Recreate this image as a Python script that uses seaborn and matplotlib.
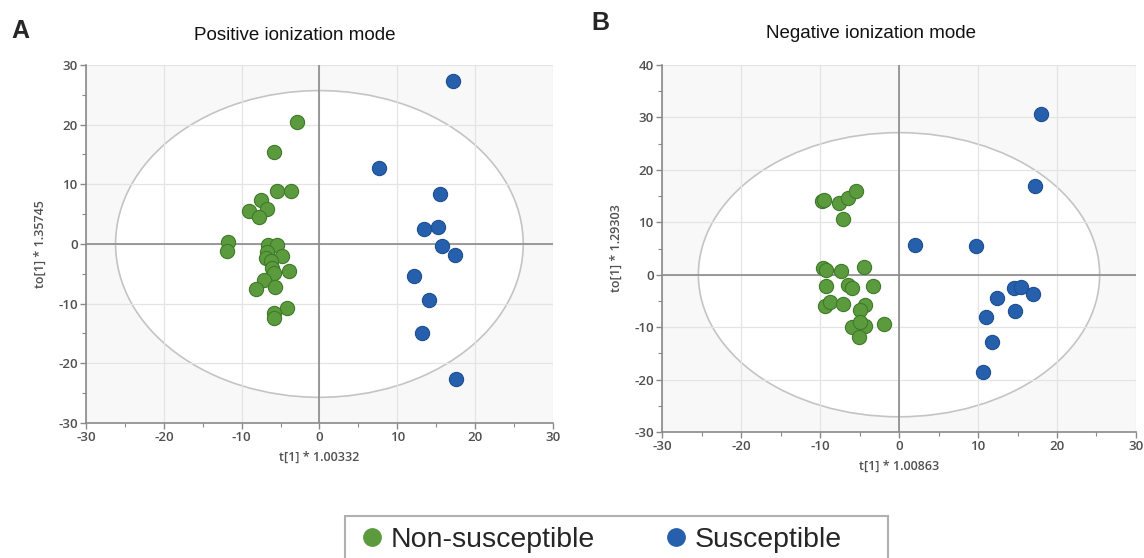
import numpy as np
import pandas as pd
import seaborn as sns
import matplotlib.pyplot as plt
from matplotlib.patches import Ellipse, Rectangle
from matplotlib.ticker import MultipleLocator
from matplotlib.lines import Line2D

# panel A - positive ionization mode
pos_ns_x = [-2.9, -5.9, -5.4, -3.6, -7.5, -6.7, -9.1, -7.8, -11.7, -11.9, -6.6, -5.4, -6.7,
            -4.8, -6.9, -6.2, -6.1, -5.9, -3.9, -7.1, -5.7, -8.1, -4.2, -5.9, -5.9]
pos_ns_y = [20.5, 15.4, 8.9, 8.8, 7.3, 5.9, 5.5, 4.5, 0.4, -1.1, -0.1, -0.2, -1.3,
            -2.0, -2.3, -2.9, -4.1, -4.8, -4.5, -6.0, -7.2, -7.5, -10.8, -11.6, -12.4]
pos_s_x = [17.2, 7.6, 15.5, 13.5, 15.2, 15.8, 17.4, 12.1, 14.1, 13.2, 17.6]
pos_s_y = [27.3, 12.7, 8.4, 2.5, 2.9, -0.4, -1.8, -5.3, -9.4, -14.9, -22.6]

# panel B - negative ionization mode
neg_ns_x = [-9.8, -9.5, -7.6, -6.4, -5.4, -7.1, -9.6, -9.2, -7.3, -4.4, -9.3, -6.5,
            -6.0, -3.3, -9.4, -8.7, -7.1, -4.3, -5.0, -6.0, -4.3, -4.9, -5.1, -1.9]
neg_ns_y = [14.0, 14.2, 13.7, 14.7, 16.0, 10.7, 1.2, 0.9, 0.7, 1.4, -2.1, -2.0,
            -2.6, -2.1, -5.9, -5.2, -5.5, -5.8, -6.7, -10.0, -9.8, -9.1, -11.9, -9.4]
neg_s_x = [18.0, 17.2, 2.0, 9.7, 14.6, 15.4, 17.0, 12.4, 14.7, 11.0, 11.8, 10.6]
neg_s_y = [30.6, 16.9, 5.7, 5.4, -2.6, -2.3, -3.7, -4.4, -6.9, -8.0, -12.8, -18.6]

groups = ["Non-susceptible", "Susceptible"]
colors = {"Non-susceptible": "#5b9a3d", "Susceptible": "#2660ad"}
edges = {"Non-susceptible": "#3f7a2a", "Susceptible": "#1d4f91"}


def make_df(nsx, nsy, sx, sy):
    d1 = pd.DataFrame({"x": nsx, "y": nsy, "group": groups[0]})
    d2 = pd.DataFrame({"x": sx, "y": sy, "group": groups[1]})
    return pd.concat([d1, d2], ignore_index=True)


df_pos = make_df(pos_ns_x, pos_ns_y, pos_s_x, pos_s_y)
df_neg = make_df(neg_ns_x, neg_ns_y, neg_s_x, neg_s_y)

sns.set_style("white")
plt.rcParams['font.family'] = ['Liberation Sans', 'DejaVu Sans']
plt.rcParams['axes.unicode_minus'] = False

fig = plt.figure(figsize=(11.44, 5.58), dpi=100)
axA = fig.add_axes([0.0752, 0.242, 0.408, 0.6416])
axB = fig.add_axes([0.5787, 0.2258, 0.4143, 0.6577])

grey = "#505050"


def draw(ax, df, ylim, ell, xlabel, ylabel):
    ax.set_facecolor("#f8f8f8")
    ax.add_patch(Ellipse((0, 0), 2 * ell[0], 2 * ell[1], facecolor="white",
                         edgecolor="#c4c4c4", lw=1.2, zorder=0.2))
    for g in groups:
        sub = df[df.group == g]
        sns.scatterplot(data=sub, x="x", y="y", ax=ax, color=colors[g], s=105,
                        edgecolor=edges[g], linewidth=0.8, zorder=3, legend=False)
    ax.set_xlim(-30, 30)
    ax.set_ylim(*ylim)
    ax.xaxis.set_major_locator(MultipleLocator(10))
    ax.xaxis.set_minor_locator(MultipleLocator(5))
    ax.yaxis.set_major_locator(MultipleLocator(10))
    ax.yaxis.set_minor_locator(MultipleLocator(5))
    ax.grid(True, which="major", color="#e4e4e4", lw=0.9, zorder=0.5)
    ax.set_axisbelow(True)
    ax.axhline(0, color="#8a8a8a", lw=1.2, zorder=1)
    ax.axvline(0, color="#8a8a8a", lw=1.2, zorder=1)
    for s in ["top", "right"]:
        ax.spines[s].set_visible(False)
    for s in ["left", "bottom"]:
        ax.spines[s].set_color("#8a8a8a")
        ax.spines[s].set_linewidth(1.2)
    ax.tick_params(which="both", direction="out", color="#8a8a8a",
                   left=True, bottom=True, pad=2)
    ax.tick_params(which="major", length=4, width=1)
    ax.tick_params(which="minor", length=3, width=0.8)
    for lab in ax.get_xticklabels() + ax.get_yticklabels():
        lab.set_fontfamily("Open Sans")
        lab.set_fontsize(9.5)
        lab.set_fontweight("semibold")
        lab.set_color(grey)
    ax.set_xlabel(xlabel, fontsize=9, family="Open Sans", weight="semibold",
                  color=grey, labelpad=5)
    ax.set_ylabel(ylabel, fontsize=9, family="Open Sans", weight="semibold",
                  color=grey, labelpad=8)


draw(axA, df_pos, (-30, 30), (26.2, 25.7), "t[1] * 1.00332", "to[1] * 1.35745")
draw(axB, df_neg, (-30, 40), (25.4, 27.1), "t[1] * 1.00863", "to[1] * 1.29303")

fig.text(295 / 1144, 1 - 36 / 558, "Positive ionization mode", fontsize=13.5,
         ha="center", va="center", color="#111111")
fig.text(871 / 1144, 1 - 33 / 558, "Negative ionization mode", fontsize=13.5,
         ha="center", va="center", color="#111111")
fig.text(0.010, 1 - 31 / 558, "A", fontsize=18, weight="bold", va="center")
fig.text(0.517, 1 - 23 / 558, "B", fontsize=18, weight="bold", va="center")

# legend box (frame drawn separately, reference box is wider on the right)
fig.patches.append(Rectangle((345 / 1144, -0.05), 543 / 1144, 0.05 + 42 / 558,
                             transform=fig.transFigure, facecolor="white",
                             edgecolor="#b0b0b0", lw=1.5))
handles = [Line2D([], [], ls="", marker="o", markersize=12.5, color=colors[g],
                  markeredgecolor=colors[g]) for g in groups]
fig.legend(handles, groups, loc="center left", bbox_to_anchor=(344 / 1144, 1 - 540 / 558),
           ncol=2, fontsize=20.5, frameon=False,
           handletextpad=0.15, columnspacing=2.35, borderpad=0.0, handlelength=1.0)

fig.savefig("out.png", dpi=100)
